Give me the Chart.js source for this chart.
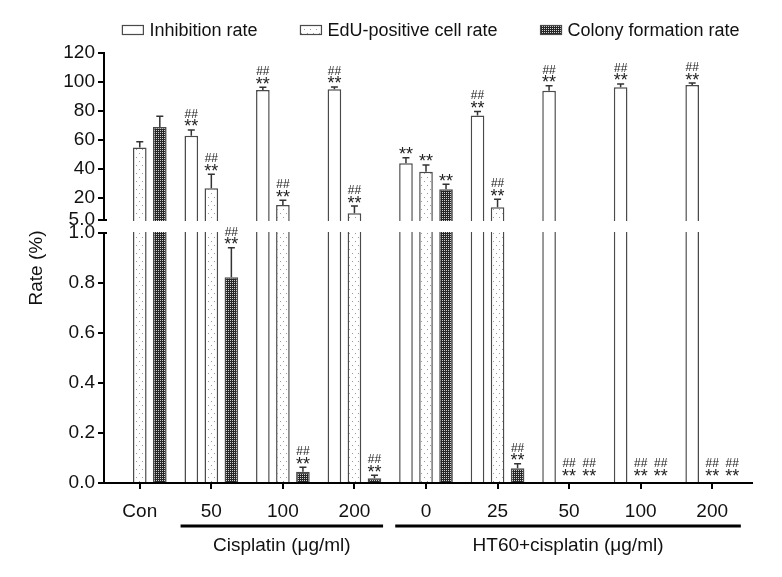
<!DOCTYPE html>
<html><head><meta charset="utf-8">
<script src="https://cdn.jsdelivr.net/npm/chart.js@4/dist/chart.umd.min.js"></script>
<style>html,body{margin:0;padding:0;background:#fff;}</style>
</head><body>
<canvas id="c" width="782" height="577"></canvas>
<script>
// ---------- data ----------
const categories = ['Con', '50', '100', '200', '0', '25', '50', '100', '200'];
const seriesNames = ['Inhibition rate', 'EdU-positive cell rate', 'Colony formation rate'];
const inhibition    = [0, 63, 94.5, 95, 44, 77, 94, 96.4, 98];
const inhibitionErr = [0, 4, 2, 1.6, 3.9, 2.8, 3.5, 2.3, 1.3];
const edu           = [55, 26.8, 15.3, 9.6, 38.3, 13.7, 0, 0, 0];
const eduErr        = [3.9, 9.7, 3.3, 5, 4.6, 5.6, 0, 0, 0];
const colony        = [69, 0.823, 0.045, 0.019, 26.1, 0.059, 0, 0, 0];
const colonyErr     = [7.5, 0.118, 0.018, 0.012, 3.5, 0.018, 0, 0, 0];
const inhibitionSig = ['', '##/**', '##/**', '##/**', '**', '##/**', '##/**', '##/**', '##/**'];
const eduSig        = ['', '##/**', '##/**', '##/**', '**', '##/**', '##/**', '##/**', '##/**'];
const colonySig     = ['', '##/**', '##/**', '##/**', '**', '##/**', '##/**', '##/**', '##/**'];
const yTicks = [0, 0.2, 0.4, 0.6, 0.8, 1.0, 5, 20, 40, 60, 80, 100, 120];
const breakLow = 1, breakHigh = 5;
const groupLabels = ['Cisplatin (\u03bcg/ml)', 'HT60+cisplatin (\u03bcg/ml)'];
const groupFrom = [1, 4];
const groupTo = [3, 8];

// ---------- styling helpers ----------
const FONT = '"Liberation Sans", Arial, sans-serif';
const FR_LOW = 250 / 430, FR_HIGH = 263 / 430;

function makePattern(w, h, bg, dots, dotColor) {
  const c = document.createElement('canvas'); c.width = w; c.height = h;
  const g = c.getContext('2d');
  g.fillStyle = bg; g.fillRect(0, 0, w, h);
  g.fillStyle = dotColor;
  dots.forEach(([x, y]) => g.fillRect(x, y, 1, 1));
  return g.createPattern(c, 'repeat');
}
const eduFill = makePattern(6, 8, '#ffffff', [[1, 1], [4, 5]], '#9a9a9a');
const colonyFill = makePattern(2, 2, '#262626', [[0, 0]], '#d2d2d2');
const fills = ['#ffffff', eduFill, colonyFill];
const BORDER = '#4a4a4a';

// ---------- broken linear scale ----------
class BrokenScale extends Chart.LinearScale {
  buildTicks() { return yTicks.map(v => ({ value: v })); }
  _dec(v) {
    if (v <= breakLow) return v / breakLow * FR_LOW;
    if (v < breakHigh) return FR_LOW + (v - breakLow) / (breakHigh - breakLow) * (FR_HIGH - FR_LOW);
    return FR_HIGH + (v - breakHigh) / (this.max - breakHigh) * (1 - FR_HIGH);
  }
  getPixelForValue(v) {
    if (v === null || v === undefined || isNaN(v)) return NaN;
    return this.getPixelForDecimal(this._dec(v));
  }
  getValueForPixel(p) {
    const d = this.getDecimalForPixel(p);
    if (d <= FR_LOW) return d / FR_LOW * breakLow;
    if (d < FR_HIGH) return breakLow + (d - FR_LOW) / (FR_HIGH - FR_LOW) * (breakHigh - breakLow);
    return breakHigh + (d - FR_HIGH) / (1 - FR_HIGH) * (this.max - breakHigh);
  }
}
BrokenScale.id = 'broken';
BrokenScale.defaults = Chart.LinearScale.defaults;
Chart.register(BrokenScale);

// ---------- decorations plugin ----------
const decor = {
  id: 'decor',
  afterDatasetsDraw(chart) {
    const { ctx, chartArea: ca, scales: { x, y } } = chart;
    const yHi = y.getPixelForValue(breakHigh), yLo = y.getPixelForValue(breakLow);
    ctx.save();
    // gap in the bars
    ctx.fillStyle = '#fff';
    ctx.fillRect(ca.left + 1, yHi + 1, ca.right - ca.left + 10, yLo - yHi - 2);

    // error bars + significance marks
    chart.data.datasets.forEach((ds, i) => {
      const meta = chart.getDatasetMeta(i);
      meta.data.forEach((bar, j) => {
        const v = ds.data[j];
        const e = ds.errors[j];
        let anchor = bar.y;
        ctx.strokeStyle = '#333'; ctx.lineWidth = 1.5;
        if (e > 0) {
          const ye = y.getPixelForValue(v + e);
          ctx.beginPath();
          ctx.moveTo(bar.x, bar.y); ctx.lineTo(bar.x, ye);
          ctx.moveTo(bar.x - 3.5, ye); ctx.lineTo(bar.x + 3.5, ye);
          ctx.stroke();
          anchor = ye;
        }
        const sig = ds.sig[j];
        if (!sig) return;
        let cy = anchor - 7 - (v === 0 ? 4 : 0);
        const parts = sig.split('/').reverse();
        ctx.fillStyle = '#222'; ctx.textAlign = 'center'; ctx.textBaseline = 'alphabetic';
        parts.forEach((p) => {
          ctx.font = (p.startsWith('#') ? '12px ' : '18px ') + FONT;
          const m = ctx.measureText(p);
          const base = cy + (m.actualBoundingBoxAscent - m.actualBoundingBoxDescent) / 2;
          ctx.fillText(p, bar.x, base);
          cy -= 9.5;
        });
      });
    });

    // axis lines with break
    ctx.strokeStyle = '#000'; ctx.lineWidth = 2;
    ctx.beginPath();
    ctx.moveTo(ca.left, ca.top - 1); ctx.lineTo(ca.left, yHi);
    ctx.moveTo(ca.left - 4, yHi); ctx.lineTo(ca.left + 3, yHi);
    ctx.moveTo(ca.left - 4, yLo); ctx.lineTo(ca.left + 3, yLo);
    ctx.moveTo(ca.left, yLo); ctx.lineTo(ca.left, ca.bottom);
    ctx.moveTo(ca.left - 1, ca.bottom); ctx.lineTo(ca.right + 5, ca.bottom);
    ctx.stroke();

    // group lines + labels
    const w = (ca.right - ca.left) / categories.length;
    ctx.lineWidth = 3; ctx.fillStyle = '#111';
    ctx.font = '19px ' + FONT; ctx.textAlign = 'center'; ctx.textBaseline = 'middle';
    groupLabels.forEach((lab, g) => {
      const x0 = x.getPixelForValue(groupFrom[g]) - 0.43 * w;
      const x1 = x.getPixelForValue(groupTo[g]) + 0.40 * w;
      ctx.beginPath(); ctx.moveTo(x0, ca.bottom + 43); ctx.lineTo(x1, ca.bottom + 43); ctx.stroke();
      ctx.fillText(lab, (x0 + x1) / 2, ca.bottom + 63);
    });

    // legend
    ctx.font = '18px ' + FONT; ctx.textAlign = 'left'; ctx.textBaseline = 'middle';
    const bw = 21, bh = 9, gapT = 6, gapI = 43;
    const widths = seriesNames.map(n => bw + gapT + ctx.measureText(n).width);
    const total = widths.reduce((a, b) => a + b, 0) + gapI * (seriesNames.length - 1);
    let lx = (ca.left + ca.right) / 2 + 5 - total / 2;
    const ly = 30;
    seriesNames.forEach((n, i) => {
      ctx.fillStyle = fills[i];
      ctx.fillRect(lx, ly - bh / 2, bw, bh);
      ctx.strokeStyle = BORDER; ctx.lineWidth = 1.2;
      ctx.strokeRect(lx, ly - bh / 2, bw, bh);
      ctx.fillStyle = '#111';
      ctx.fillText(n, lx + bw + gapT, ly + 1);
      lx += widths[i] + gapI;
    });
    ctx.restore();
  }
};

// ---------- chart ----------
const values = [inhibition, edu, colony];
const errs = [inhibitionErr, eduErr, colonyErr];
const sigs = [inhibitionSig, eduSig, colonySig];

new Chart(document.getElementById('c'), {
  type: 'bar',
  data: {
    labels: categories,
    datasets: seriesNames.map((n, i) => ({
      label: n,
      data: values[i],
      errors: errs[i],
      sig: sigs[i],
      backgroundColor: fills[i],
      borderColor: BORDER,
      borderWidth: 1.5,
      categoryPercentage: 0.84,
      barPercentage: 0.68
    }))
  },
  options: {
    responsive: false,
    animation: false,
    devicePixelRatio: 1,
    layout: { padding: { left: 20, right: 34, top: 53, bottom: 0 } },
    plugins: { legend: { display: false }, tooltip: { enabled: false } },
    scales: {
      x: {
        grid: { offset: false, drawOnChartArea: false, drawTicks: true, tickLength: 6, color: '#000', lineWidth: 2 },
        border: { display: false },
        ticks: { font: { size: 19, family: FONT }, color: '#111', padding: 11, maxRotation: 0, autoSkip: false },
        afterFit: s => { s.height = 94; }
      },
      y: {
        type: 'broken',
        min: 0, max: 120,
        grid: { drawOnChartArea: false, drawTicks: true, tickLength: 6, color: '#000', lineWidth: 2 },
        border: { display: false },
        ticks: {
          font: { size: 19, family: FONT }, color: '#111', padding: 3, autoSkip: false,
          callback: v => (v <= breakHigh ? Number(v).toFixed(1) : String(v))
        },
        title: { display: true, text: 'Rate (%)', font: { size: 19, family: FONT }, color: '#111', padding: { top: 5, bottom: 0 } },
        afterFit: s => { s.width = 84; }
      }
    }
  },
  plugins: [decor]
});
</script>
</body></html>
